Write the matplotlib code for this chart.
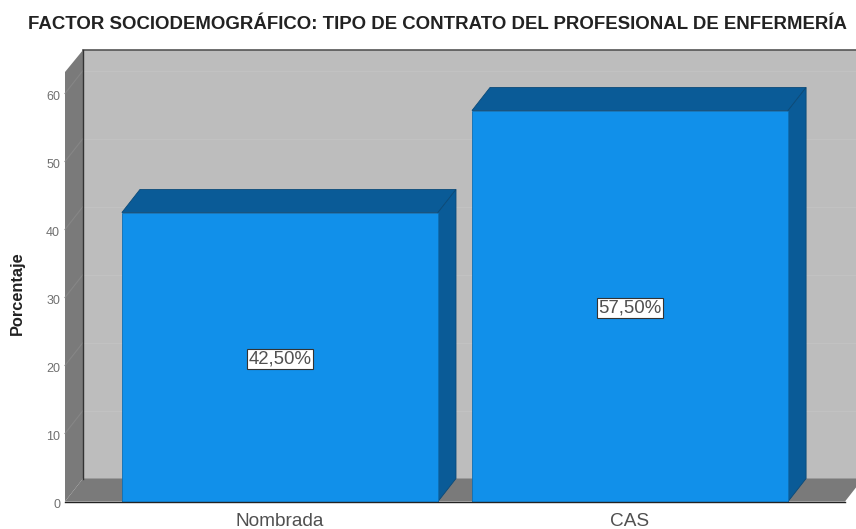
import matplotlib
matplotlib.use("Agg")
import matplotlib.pyplot as plt
from matplotlib.transforms import ScaledTranslation

categorias = ["Nombrada", "CAS"]
porcentajes = [42.5, 57.5]
etiquetas = ["42,50%", "57,50%"]
ticks_y = [0, 10, 20, 30, 40, 50, 60]

AZUL = "#1190ea"
AZUL_OSCURO = "#0a5b97"
MURO = "#bdbdbd"
PISO = "#7a7a7a"
GRID = "#c2c2c2"

W, H = 856, 529
plt.rcParams["font.family"] = ["Liberation Sans", "DejaVu Sans"]

fig = plt.figure(figsize=(W / 100, H / 100), dpi=100)
ax = fig.add_axes([65 / W, 1 - 501.5 / H, 780 / W, 429.5 / H])

# escalas: 350 px entre barras, 6.8 px por unidad
x0, x1 = -0.614, 1.614
y0, y1 = 0, 429.5 / 6.8
ax.set_xlim(x0, x1)
ax.set_ylim(y0, y1)
ax.patch.set_visible(False)
for s in ax.spines.values():
    s.set_visible(False)

# profundidad del efecto 3D
dx = 18 / 350
dy = 23 / 6.8
ancho = 316 / 350

# paredes y piso
ax.fill([x0 + dx, x1 + dx, x1 + dx, x0 + dx], [dy, dy, y1 + dy - 0.15, y1 + dy - 0.15],
        color=MURO, lw=0, clip_on=False, zorder=1)
ax.fill([x0, x0 + dx, x0 + dx, x0], [0, dy, y1 + dy - 0.15, y1], color=PISO, lw=0, clip_on=False, zorder=1)
ax.fill([x0, x1, x1 + dx, x0 + dx], [0, 0, dy, dy], color=PISO, lw=0, clip_on=False, zorder=1)

for t in ticks_y[1:]:
    ax.plot([x0 + dx, x1 + dx], [t + dy, t + dy], color=GRID, lw=0.8, clip_on=False, zorder=2)
    ax.plot([x0, x0 + dx], [t, t + dy], color="#868686", lw=0.8, clip_on=False, zorder=2)

ax.plot([x0 + dx, x1 + dx], [y1 + dy - 0.15] * 2, color="#555555", lw=1.2, clip_on=False, zorder=3)
ax.plot([x0 + dx, x0 + dx], [dy, y1 + dy - 0.15], color="#333333", lw=1.0, clip_on=False, zorder=3)
ax.plot([x0, x1], [0, 0], color="#222222", lw=1.0, clip_on=False, zorder=6)

# barras
for i, v in enumerate(porcentajes):
    iz, de = i - ancho / 2, i + ancho / 2
    ax.fill([iz, de, de + dx, iz + dx], [v, v, v + dy, v + dy], facecolor=AZUL_OSCURO,
            edgecolor="#0b4a78", lw=0.6, clip_on=False, zorder=4)
    ax.fill([de, de + dx, de + dx, de], [0, dy, v + dy, v], facecolor=AZUL_OSCURO,
            edgecolor="#0b4a78", lw=0.6, clip_on=False, zorder=4)
    ax.bar(i, v, width=ancho, color=AZUL, edgecolor="#0d6fb5", linewidth=0.6, zorder=5)
    ax.annotate(etiquetas[i], (i, v / 2), xytext=(0, -1.5), textcoords="offset points",
                ha="center", va="center", fontsize=13.4, color="#505050", zorder=7,
                bbox=dict(boxstyle="square,pad=0.08", facecolor="white", edgecolor="#333333", linewidth=0.8))

ax.set_xticks([0, 1])
ax.set_xticklabels(categorias, fontsize=13.7, color="#505050")
ax.set_yticks(ticks_y)
ax.set_yticklabels([str(t) for t in ticks_y], fontsize=9, color="#707070")
ax.tick_params(axis="both", length=0)
ax.tick_params(axis="x", pad=8)
ax.tick_params(axis="y", pad=3.6)

# las etiquetas del eje y quedan 2 px por debajo de su marca
bajar = ScaledTranslation(0, -2 / 100, fig.dpi_scale_trans)
for lab in ax.get_yticklabels():
    lab.set_transform(lab.get_transform() + bajar)

fig.text(17.5 / W, 1 - 293 / H, "Porcentaje", rotation=90, ha="center", va="center",
         fontsize=11.8, fontweight="bold", color="#222222")
fig.text(438 / W, 1 - 24.5 / H, "FACTOR SOCIODEMOGRÁFICO: TIPO DE CONTRATO DEL PROFESIONAL DE ENFERMERÍA",
         ha="center", va="center", fontsize=13.4, fontweight="bold", color="#222222")

fig.savefig("out.png", dpi=100)
plt.close(fig)
